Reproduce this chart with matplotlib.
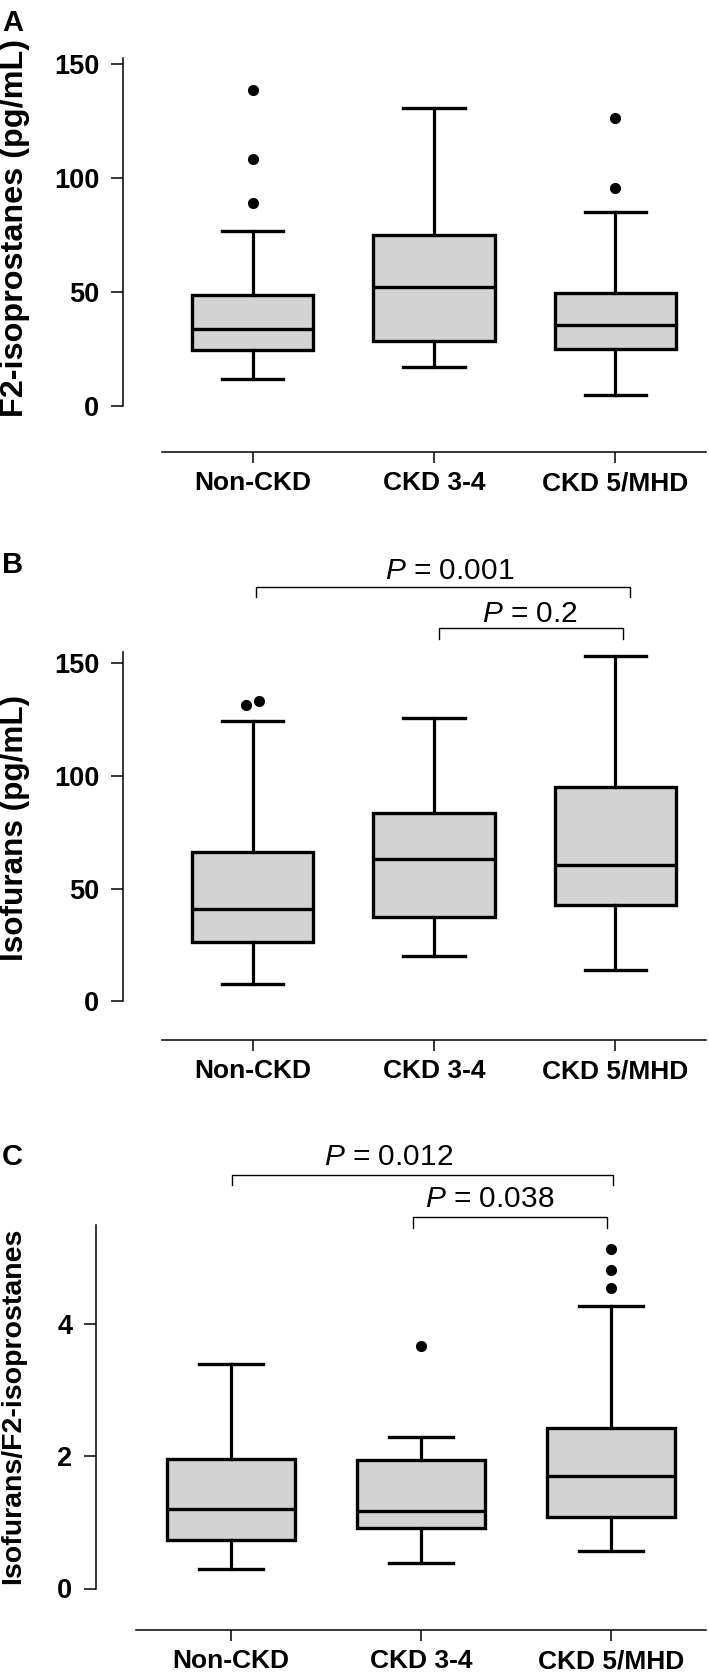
import matplotlib
matplotlib.use("Agg")
import matplotlib.pyplot as plt

plt.rcParams['font.family'] = ['Liberation Sans', 'DejaVu Sans']
plt.rcParams['mathtext.fontset'] = 'custom'
plt.rcParams['mathtext.it'] = 'Liberation Sans:italic'
plt.rcParams['mathtext.rm'] = 'Liberation Sans'

# 데이터
groups = ["Non-CKD", "CKD 3-4", "CKD 5/MHD"]

# A: F2-isoprostanes (pg/mL)  [whislo, q1, med, q3, whishi]
a_box = [[11.7, 24.6, 33.6, 48.5, 76.9],
         [17.3, 28.7, 52.3, 75.1, 130.6],
         [4.8, 24.9, 35.7, 49.6, 84.9]]
a_fliers = [[88.9, 108.5, 138.6], [], [95.5, 126.2]]
a_flier_dx = [[0, 0, 0], [], [0, 0]]

# B: Isofurans (pg/mL)
b_box = [[7.8, 26.5, 41.2, 66.2, 124.3],
         [20.0, 37.4, 63.2, 83.5, 125.6],
         [13.8, 42.8, 60.5, 94.9, 153.3]]
b_fliers = [[131.5, 133.4], [], []]
b_flier_dx = [[-0.035, 0.033], [], []]
b_pvals = ["$P$ = 0.001", "$P$ = 0.2"]
b_brackets = [(1.02, 3.08, 183.8, 4.4), (2.03, 3.04, 165.6, 4.9)]
b_text_x = [2.085, 2.53]
b_text_gap = [6, 4]

# C: Isofurans/F2-isoprostanes
c_box = [[0.30, 0.73, 1.20, 1.96, 3.40],
         [0.39, 0.92, 1.17, 1.94, 2.29],
         [0.56, 1.08, 1.70, 2.42, 4.27]]
c_fliers = [[], [3.66], [4.55, 4.81, 5.13]]
c_flier_dx = [[], [0], [0, 0, 0]]
c_pvals = ["$P$ = 0.012", "$P$ = 0.038"]
c_brackets = [(1.005, 3.01, 6.26, 0.16), (1.96, 2.98, 5.62, 0.17)]
c_text_x = [1.83, 2.36]
c_text_gap = [7, 7]

W, H = 709, 1675
fig = plt.figure(figsize=(W / 100, H / 100), dpi=100)


def make_panel(left, right, top, bottom, zero_px, unit_px, spine_x, spine_top, yticks):
    ax = fig.add_axes([left / W, 1 - bottom / H, (right - left) / W, (bottom - top) / H])
    ax.set_xlim(0.5, 3.5)
    ax.set_ylim((zero_px - bottom) / unit_px, (zero_px - top) / unit_px)
    ax.spines['top'].set_visible(False)
    ax.spines['right'].set_visible(False)
    ax.spines['left'].set_position(('outward', (left - spine_x) * 0.72))
    ax.spines['left'].set_bounds(0, spine_top)
    for s in ['left', 'bottom']:
        ax.spines[s].set_linewidth(1.1)
    return ax


def set_ticks(ax, yticks):
    ax.set_yticks(yticks)
    ax.set_xticks([1, 2, 3])
    ax.set_xticklabels(groups, fontsize=19, fontweight='bold')
    ax.tick_params(axis='y', length=8.6, width=1.1, pad=8.5, labelsize=19.5)
    ax.tick_params(axis='x', length=8, width=1.1, pad=6)
    for lab in ax.get_yticklabels():
        lab.set_fontweight('bold')


def draw_boxes(ax, box, fliers, flier_dx):
    stats = []
    for b in box:
        stats.append(dict(whislo=b[0], q1=b[1], med=b[2], q3=b[3], whishi=b[4], fliers=[]))
    ax.bxp(stats, positions=[1, 2, 3], widths=0.67, capwidths=0.34,
           patch_artist=True, showfliers=False, manage_ticks=False,
           boxprops=dict(facecolor='#d3d3d3', edgecolor='black', linewidth=2.4),
           whiskerprops=dict(color='black', linewidth=2.3),
           capprops=dict(color='black', linewidth=2.4),
           medianprops=dict(color='black', linewidth=2.4))
    for i, (f, dx) in enumerate(zip(fliers, flier_dx)):
        if f:
            ax.plot([i + 1 + d for d in dx], f, 'o', color='black', markersize=7, clip_on=False)


def draw_pvals(ax, brackets, labels, text_x, gaps):
    for (x1, x2, y, drop), lab, tx, g in zip(brackets, labels, text_x, gaps):
        ax.plot([x1, x1, x2, x2], [y - drop, y, y, y - drop], color='black', lw=1.0, clip_on=False)
        ax.annotate(lab, xy=(tx, y), xytext=(0, g), textcoords='offset points',
                    ha='center', va='baseline', fontsize=21.5)


# 패널 A
ax_a = make_panel(162, 706, 30, 452, 406, 342 / 150, 123, 152.5, [0, 50, 100, 150])
draw_boxes(ax_a, a_box, a_fliers, a_flier_dx)
set_ticks(ax_a, [0, 50, 100, 150])

# 패널 B
ax_b = make_panel(162, 706, 540, 1040, 1001.4, 338.2 / 150, 123, 155, [0, 50, 100, 150])
draw_boxes(ax_b, b_box, b_fliers, b_flier_dx)
draw_pvals(ax_b, b_brackets, b_pvals, b_text_x, b_text_gap)
set_ticks(ax_b, [0, 50, 100, 150])

# 패널 C
ax_c = make_panel(136, 706, 1120, 1630, 1588.5, 264.5 / 4, 96, 5.5, [0, 2, 4])
draw_boxes(ax_c, c_box, c_fliers, c_flier_dx)
draw_pvals(ax_c, c_brackets, c_pvals, c_text_x, c_text_gap)
set_ticks(ax_c, [0, 2, 4])

# 패널 글자와 y축 제목
for letter, base in [("A", 31), ("B", 573), ("C", 1165)]:
    fig.text(2 / W, 1 - base / H, letter, fontsize=21, fontweight='bold', va='baseline', ha='left')

for label, ycen, size in [("F2-isoprostanes (pg/mL)", 228, 23.3),
                          ("Isofurans (pg/mL)", 828, 22.7),
                          ("Isofurans/F2-isoprostanes", 1406, 20.5)]:
    fig.text(0 / W, 1 - ycen / H, label, rotation=90, fontsize=size, fontweight='bold',
             ha='left', va='center')

plt.savefig("out.png", dpi=100)
